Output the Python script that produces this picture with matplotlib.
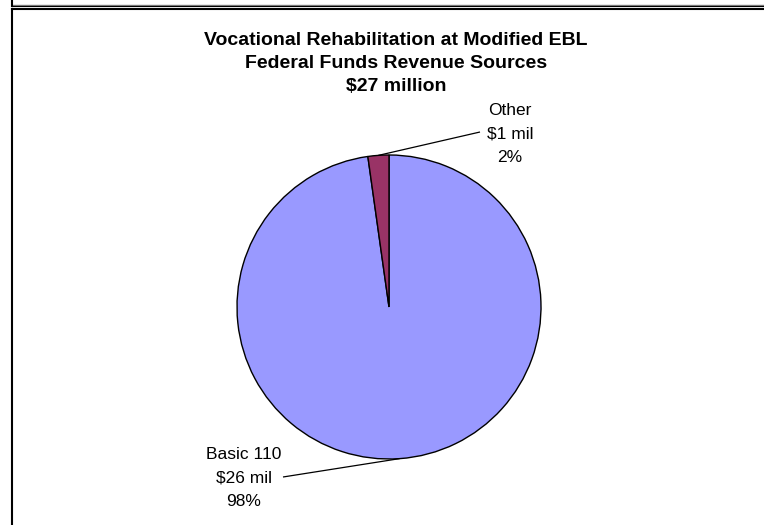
import matplotlib.pyplot as plt
import numpy as np

plt.rcParams['font.family'] = ['Liberation Sans', 'DejaVu Sans']

# data
categories = ['Basic 110', 'Other']
values = [26.4, 0.6]          # $ millions
amount_labels = ['$26 mil', '$1 mil']
pct_labels = ['98%', '2%']
colors = ['#9999FF', '#993366']
title = 'Vocational Rehabilitation at Modified EBL\nFederal Funds Revenue Sources\n$27 million'

W, H = 764, 525
fig = plt.figure(figsize=(W / 100, H / 100), dpi=100)
ax = fig.add_axes([0, 0, 1, 1])

# pie in pixel-like coords (y up)
cx, cy, r = 389, H - 307, 152
wedges, _ = ax.pie(values, colors=colors, startangle=90, counterclock=False,
                   center=(cx, cy), radius=r, frame=True,
                   wedgeprops=dict(edgecolor='black', linewidth=1.0))
ax.set_xlim(0, W)
ax.set_ylim(0, H)
ax.set_aspect('equal')
ax.axis('off')

# labels with leader lines (label centre, leader end)
label_pos = {'Basic 110': ((244, H - 478), (283, H - 477)),
             'Other': ((510, H - 134), (480, H - 132))}
for w, cat, amt, pct in zip(wedges, categories, amount_labels, pct_labels):
    mid = np.deg2rad((w.theta1 + w.theta2) / 2)
    sx, sy = cx + r * np.cos(mid), cy + r * np.sin(mid)
    (tx, ty), (ex, ey) = label_pos[cat]
    ax.plot([sx, ex], [sy, ey], color='black', lw=0.9, solid_capstyle='butt')
    ax.text(tx, ty, f'{cat}\n{amt}\n{pct}', ha='center', va='center',
            multialignment='center', fontsize=12.5, linespacing=1.68)

ax.text(396, H - 63.5, title, ha='center', va='center', fontsize=14,
        fontweight='bold', linespacing=1.47)

# chart frame (previous box bottom + this box top/left)
ax.plot([11.5, W], [H - 4.5, H - 4.5], color='#808080', lw=1.0)
ax.plot([11.5, W], [H - 6, H - 6], color='black', lw=0.8)
ax.plot([11.5, 11.5], [H, H - 6], color='black', lw=1.5)
ax.plot([11.5, W], [H - 8.5, H - 8.5], color='black', lw=1.5)
ax.plot([11.5, 11.5], [H - 8.5, 0], color='black', lw=1.5)

fig.savefig('out.png', dpi=100)
